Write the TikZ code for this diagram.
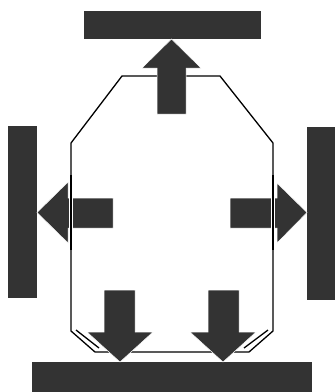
\documentclass[tikz,border=0pt]{standalone}
\usepackage{tikz}

\begin{document}
\begin{tikzpicture}[x=1pt, y=-1pt,
  bar/.style={fill=black!80},
  fatarrow/.style={fill=black!80, draw=white, line width=0.5pt},
  hull/.style={draw=black, line width=1.3pt, line join=miter},
  sideline/.style={draw=black, line width=1.3pt, preaction={draw=white, line width=3.5pt}}]

\useasboundingbox (0,0) rectangle (336,392);

% Bars
\fill[bar] (84,11) rectangle (261,39);
\fill[bar] (8,126) rectangle (37,298);
\fill[bar] (307,127) rectangle (335,300);
\fill[bar] (32,362) rectangle (312,392);

% Hull
\draw[hull] (71,143) -- (122,76) -- (220,76) -- (273,143) -- (273,331)
  -- (249,352) -- (95,352) -- (71,331) -- cycle;
\draw[hull] (76,330) -- (99,348);
\draw[hull] (268,330) -- (244,348);

% Arrows
\filldraw[fatarrow] (157,114) -- (157,68) -- (142,68) -- (171.5,39)
  -- (201,68) -- (186,68) -- (186,114) -- cycle;
\filldraw[fatarrow] (113,198) -- (68,198) -- (68,182) -- (37,212.5)
  -- (68,243) -- (68,228) -- (113,228) -- cycle;
\filldraw[fatarrow] (230,198) -- (277,198) -- (277,183) -- (307,212.5)
  -- (277,243) -- (277,228) -- (230,228) -- cycle;
\filldraw[fatarrow] (104,290) -- (104,332) -- (87,332) -- (120,362)
  -- (153,332) -- (135,332) -- (135,290) -- cycle;
\filldraw[fatarrow] (208,290) -- (208,332) -- (190,332) -- (223,362)
  -- (256,332) -- (239,332) -- (239,290) -- cycle;

% Hull sides over the side arrows
\draw[sideline] (71,175) -- (71,250);
\draw[sideline] (273,175) -- (273,250);

\end{tikzpicture}
\end{document}
